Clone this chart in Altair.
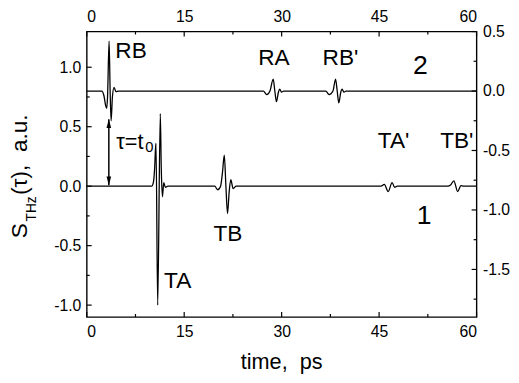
import altair as alt
import pandas as pd

FONT = "Liberation Sans"

# ---- data ----
# trace 1 (left axis)
t1 = [0, 10.0, 10.25, 10.45, 10.58, 10.66, 10.92, 11.32, 11.47, 11.65, 11.85, 12.1, 12.5,
      19.7, 20.15, 20.6, 20.9, 21.17, 21.42, 21.67, 21.92, 22.17, 22.53, 23.0,
      45.3, 45.8, 46.4, 47.0, 47.4, 47.8,
      55.6, 56.0, 56.5, 57.1, 57.6, 58.0, 60]
s1 = [0, 0, 0.03, 0.15, 0.31, 0.36, -1.0, 0.61, 0.15, -0.09, 0.03, -0.01, 0.0,
      0, -0.03, 0.0, 0.12, 0.26, 0.0, -0.23, -0.05, 0.055, -0.02, 0,
      0, 0.015, -0.045, 0.03, -0.01, 0.0,
      0, 0.01, 0.045, -0.045, 0.005, 0, 0]

# trace 2 (right axis)
t2 = [0, 2.3, 2.65, 2.9, 3.08, 3.2, 3.44, 3.6, 3.75, 3.95, 4.2, 4.5, 4.9,
      27.2, 27.7, 28.2, 28.7, 28.95, 29.2, 29.5, 29.7, 30.0, 30.3,
      36.8, 37.3, 37.9, 38.3, 38.55, 38.8, 39.1, 39.3, 39.6, 39.9, 60]
s2 = [0, 0, -0.04, -0.12, -0.145, -0.05, 0.42, 0.0, -0.25, -0.05, 0.03, -0.005, 0.0,
      0, -0.03, 0.0, 0.1, 0.0, -0.09, -0.01, 0.015, -0.01, 0,
      0, -0.03, 0.0, 0.1, 0.0, -0.1, -0.01, 0.015, -0.01, 0, 0]

x_major = [0, 15, 30, 45, 60]
x_minor = [7.5, 22.5, 37.5, 52.5]
yl_major = [-1.0, -0.5, 0.0, 0.5, 1.0]
yl_minor = [-0.75, -0.25, 0.25, 0.75]
yr_major = [-1.5, -1.0, -0.5, 0.0, 0.5]
yr_minor = [-1.75, -1.25, -0.75, -0.25, 0.25]

peak_labels = ["RB", "RA", "RB'", "TA'", "TB'", "TB", "TA"]
peak_label_t = [4.4, 26.4, 36.3, 44.8, 54.4, 19.5, 11.9]
peak_label_v = [1.075, 1.017, 1.017, 0.322, 0.322, -0.463, -0.86]

trace_labels = ["2", "1"]
trace_label_t = [50.2, 50.8]
trace_label_v = [0.94, -0.322]

arrow_t = [3.4, 3.4]
arrow_v = [0.008, 0.562]

tau_text = ["τ=t"]
tau_t = [4.55]
tau_v = [0.31]
sub_text = ["0"]
sub_t = [9.0]
sub_v = [0.285]

W, H = 396, 290

xs = alt.Scale(domain=[0, 60], nice=False, zero=False)
yl = alt.Scale(domain=[-1.1, 1.3], nice=False, zero=False)
yr = alt.Scale(domain=[-1.9, 0.5], nice=False, zero=False)

lab_expr = "datum.value < 0 ? '-' + format(-datum.value, '.1f') : format(datum.value, '.1f')"

axis_common = dict(ticks=False, domain=False, grid=False, labelFont=FONT,
                   labelFontSize=16, labelColor="black", title=None)

df1 = pd.DataFrame({"t": t1, "s": s1})
df2 = pd.DataFrame({"t": t2, "s": s2})

line1 = alt.Chart(df1).mark_line(color="black", strokeWidth=1.3, interpolate="monotone").encode(
    x=alt.X("t:Q", scale=xs, axis=alt.Axis(orient="bottom", values=x_major, format="d",
                                           labelPadding=7, **axis_common)),
    y=alt.Y("s:Q", scale=yl, axis=alt.Axis(orient="left", values=yl_major, labelExpr=lab_expr,
                                           labelPadding=6, **axis_common)),
)

line2 = alt.Chart(df2).mark_line(color="black", strokeWidth=1.3, interpolate="monotone").encode(
    x=alt.X("t:Q", scale=xs, axis=alt.Axis(orient="top", values=x_major, format="d",
                                           labelPadding=7, **axis_common)),
    y=alt.Y("s:Q", scale=yr, axis=alt.Axis(orient="right", values=yr_major, labelExpr=lab_expr,
                                           labelPadding=6, **axis_common)),
)


def xticks(vals, y0, y1):
    return alt.Chart(pd.DataFrame({"x": vals})).mark_rule(color="black", strokeWidth=1.2).encode(
        x=alt.X("x:Q", scale=xs, axis=None), y=alt.value(y0), y2=alt.value(y1))


def yticks(vals, scale, x0, x1):
    return alt.Chart(pd.DataFrame({"y": vals})).mark_rule(color="black", strokeWidth=1.2).encode(
        y=alt.Y("y:Q", scale=scale, axis=None), x=alt.value(x0), x2=alt.value(x1))


lbl_df = pd.DataFrame({"t": peak_label_t, "v": peak_label_v, "txt": peak_labels})
labels = alt.Chart(lbl_df).mark_text(font=FONT, fontSize=23, align="left", baseline="alphabetic",
                                     color="black").encode(
    x=alt.X("t:Q", scale=xs, axis=None), y=alt.Y("v:Q", scale=yl, axis=None), text="txt:N")

num_df = pd.DataFrame({"t": trace_label_t, "v": trace_label_v, "txt": trace_labels})
nums = alt.Chart(num_df).mark_text(font=FONT, fontSize=27, align="left", baseline="alphabetic",
                                   color="black").encode(
    x=alt.X("t:Q", scale=xs, axis=None), y=alt.Y("v:Q", scale=yl, axis=None), text="txt:N")

tau = alt.Chart(pd.DataFrame({"t": tau_t, "v": tau_v, "txt": tau_text})).mark_text(
    font=FONT, fontSize=22, align="left", baseline="alphabetic", color="black").encode(
    x=alt.X("t:Q", scale=xs, axis=None), y=alt.Y("v:Q", scale=yl, axis=None), text="txt:N")
tau_sub = alt.Chart(pd.DataFrame({"t": sub_t, "v": sub_v, "txt": sub_text})).mark_text(
    font=FONT, fontSize=15, align="left", baseline="alphabetic", color="black").encode(
    x=alt.X("t:Q", scale=xs, axis=None), y=alt.Y("v:Q", scale=yl, axis=None), text="txt:N")

arrow_df = pd.DataFrame({"t": arrow_t, "v": arrow_v})
arrow_line = alt.Chart(arrow_df).mark_line(color="black", strokeWidth=1.5).encode(
    x=alt.X("t:Q", scale=xs, axis=None), y=alt.Y("v:Q", scale=yl, axis=None))
head_up = alt.Chart(pd.DataFrame({"t": [arrow_t[1]], "v": [arrow_v[1]]})).mark_point(
    shape="M0,0L0.45,1.7L-0.45,1.7Z", size=110, filled=True, color="black", opacity=1).encode(
    x=alt.X("t:Q", scale=xs, axis=None), y=alt.Y("v:Q", scale=yl, axis=None))
head_down = alt.Chart(pd.DataFrame({"t": [arrow_t[0]], "v": [arrow_v[0]]})).mark_point(
    shape="M0,0L0.45,-1.7L-0.45,-1.7Z", size=110, filled=True, color="black", opacity=1).encode(
    x=alt.X("t:Q", scale=xs, axis=None), y=alt.Y("v:Q", scale=yl, axis=None))

xtitle = alt.Chart(pd.DataFrame({"txt": ["time,\u00a0\u00a0ps"]})).mark_text(
    font=FONT, fontSize=22, align="center", baseline="alphabetic", color="black").encode(
    x=alt.value(W / 2), y=alt.value(343), text="txt:N")

ytitle_s = alt.Chart(pd.DataFrame({"txt": ["S"]})).mark_text(
    font=FONT, fontSize=23, align="left", baseline="alphabetic", angle=270, color="black").encode(
    x=alt.value(-61), y=alt.value(210), text="txt:N")
ytitle_sub = alt.Chart(pd.DataFrame({"txt": ["THz"]})).mark_text(
    font=FONT, fontSize=14, align="left", baseline="alphabetic", angle=270, color="black").encode(
    x=alt.value(-52), y=alt.value(193), text="txt:N")
ytitle_rest = alt.Chart(pd.DataFrame({"txt": ["(τ),\u00a0\u00a0a.u."]})).mark_text(
    font=FONT, fontSize=23, align="left", baseline="alphabetic", angle=270, color="black").encode(
    x=alt.value(-61), y=alt.value(166), text="txt:N")

chart = alt.layer(
    line1, line2,
    xticks(x_major, H, H - 5), xticks(x_minor, H, H - 3),
    xticks(x_major, 0, 5), xticks(x_minor, 0, 3),
    yticks(yl_major, yl, 0, 5), yticks(yl_minor, yl, 0, 3),
    yticks(yr_major, yr, W, W - 5), yticks(yr_minor, yr, W, W - 3),
    labels, nums, tau, tau_sub, arrow_line, head_up, head_down,
    xtitle, ytitle_s, ytitle_sub, ytitle_rest,
).resolve_scale(
    y="independent"
).resolve_axis(
    x="independent", y="independent"
).properties(
    width=W, height=H,
    autosize=alt.AutoSizeParams(type="none"),
    padding={"left": 80, "top": 21, "right": 35, "bottom": 56},
).configure_view(
    stroke="black", strokeWidth=1.4
)

chart.save("out.html", embed_options={"renderer": "svg", "actions": False})
